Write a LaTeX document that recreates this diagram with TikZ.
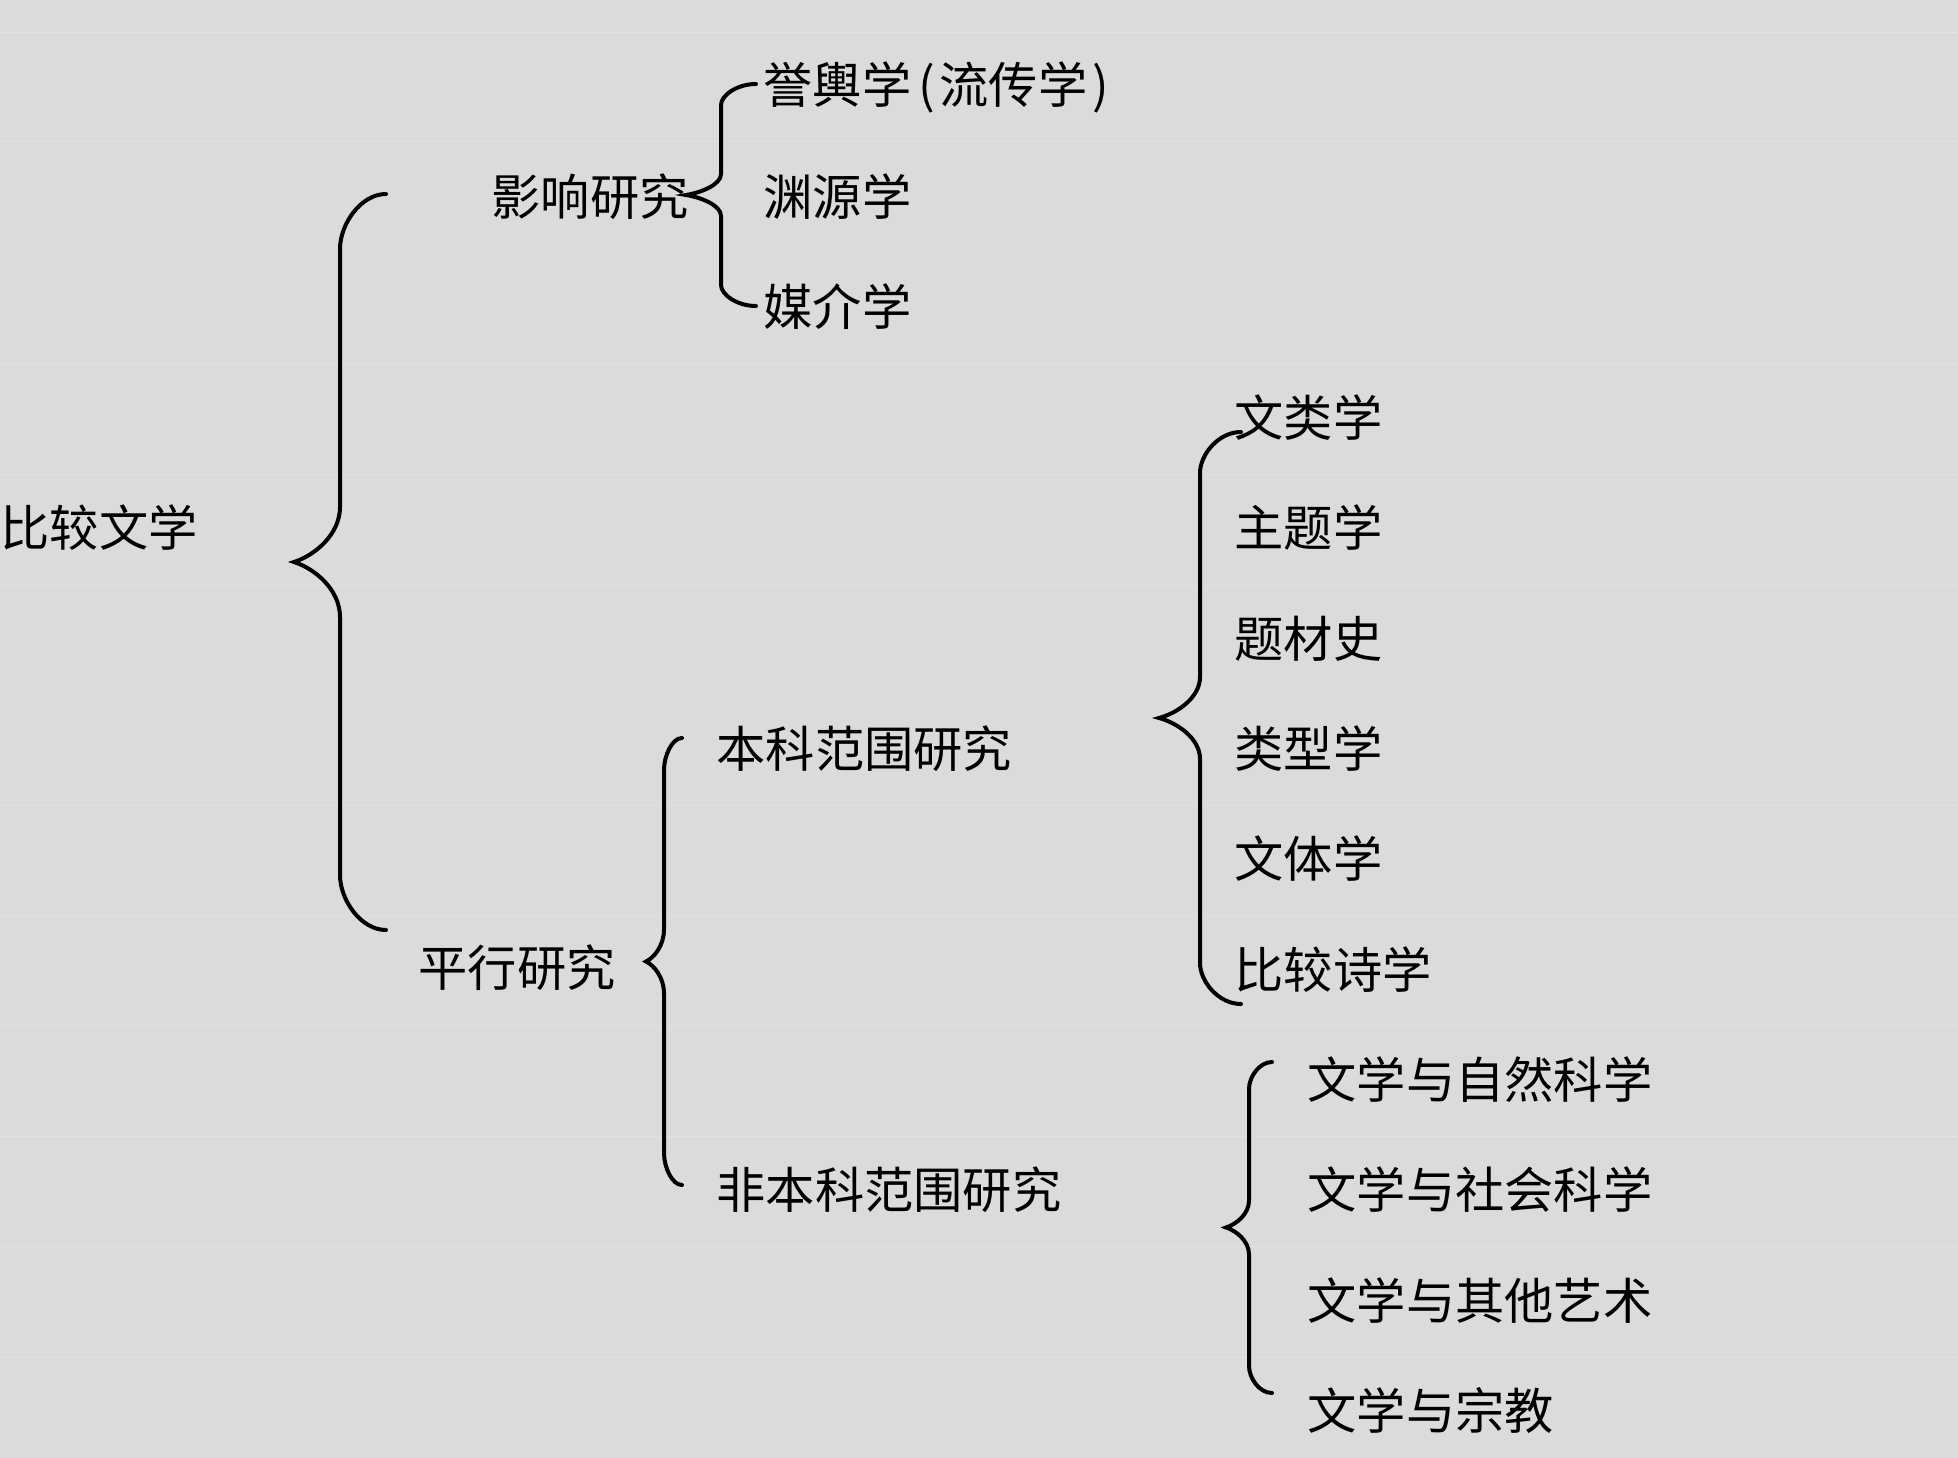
\documentclass[tikz,border=0pt]{standalone}
\usepackage{fontspec}
\setmainfont{Noto Sans CJK SC}
\usepackage{tikz}
\usetikzlibrary{calc}
\definecolor{pagegray}{RGB}{219,219,219}
\definecolor{rulegray}{RGB}{225,225,225}
\definecolor{inkblack}{RGB}{0,0,0}

\tikzset{
  term/.style={anchor=west, inner sep=0pt, text=inkblack, font=\fontsize{19.7}{24}\selectfont},
  brace line/.style={draw=inkblack, line width=1.6pt, line cap=round},
  % left curly brace from top tip to bottom tip: #1 = half width, #2 = curl height
  lbrace/.style 2 args={to path={
    .. controls +(-0.55*#1,0) and +(0,-0.45*#2) .. ++(-#1,#2)
    -- ($(\tikztostart)!0.5!(\tikztotarget)+(-#1,-#2)$)
    .. controls +(0,0.5*#2) and +(0.45*#1,-0.12*#2) .. ++(-#1,#2)
    .. controls +(0.45*#1,0.12*#2) and +(0,-0.5*#2) .. ++(#1,#2)
    -- ($(\tikztotarget)+(-#1,-#2)$)
    .. controls +(0,0.45*#2) and +(-0.55*#1,0) .. (\tikztotarget)
  }}
}

\begin{document}
\begin{tikzpicture}[x=0.4pt, y=-0.4pt]

% Background
\useasboundingbox (0,0) rectangle (1958,1458);
\fill[pagegray] (0,0) rectangle (1958,1458);
\foreach \y in {33,142,364,474,585,805,915,1025,1136,1246,1357}
  \draw[rulegray, line width=0.4pt] (0,\y) -- (1958,\y);

% Root
\node[term] at (0,528) (root) {比较文学};

% Two kinds of study
\node[term] at (491,197) (infl) {影响研究};
\node[term] at (418,968) (para) {平行研究};

% Influence study
\node[term] at (763,87) (yuyu) {誉輿学\hspace{0.14em}(\hspace{0.1em}流传学\hspace{0.1em})};
\node[term] at (763,197) (yuanyuan) {渊源学};
\node[term] at (763,307) (meijie) {媒介学};

% Parallel study
\node[term] at (716,749) (benke) {本科范围研究};
\node[term] at (716,1190) (feibenke) {非本科范围研究};

% Within the discipline
\node[term] at (1234,418) (wenlei) {文类学};
\node[term] at (1234,528) (zhuti) {主题学};
\node[term] at (1234,639) (ticai) {题材史};
\node[term] at (1234,749) (leixing) {类型学};
\node[term] at (1234,859) (wenti) {文体学};
\node[term] at (1234,970) (shixue) {比较诗学};

% Beyond the discipline
\node[term] at (1307,1080) (ziran) {文学与自然科学};
\node[term] at (1307,1190) (shehui) {文学与社会科学};
\node[term] at (1307,1301) (qita) {文学与其他艺术};
\node[term] at (1307,1411) (zongjiao) {文学与宗教};

% Brace tips
\coordinate (root_top) at (386,194);
\coordinate (root_bot) at (386,930);
\coordinate (infl_top) at (756,84);
\coordinate (infl_bot) at (756,306);
\coordinate (para_top) at (682,738);
\coordinate (para_bot) at (682,1185);
\coordinate (benke_top) at (1241,432);
\coordinate (benke_bot) at (1241,1004);
\coordinate (feibenke_top) at (1272,1062);
\coordinate (feibenke_bot) at (1272,1393);

% Braces
\draw[brace line, lbrace={46}{55}] (root_top) to (root_bot);
\draw[brace line, lbrace={35}{21}] (infl_top) to (infl_bot);
\draw[brace line, lbrace={18}{32}] (para_top) to (para_bot);
\draw[brace line, lbrace={41}{41}] (benke_top) to (benke_bot);
\draw[brace line, lbrace={23}{27}] (feibenke_top) to (feibenke_bot);

\end{tikzpicture}
\end{document}
